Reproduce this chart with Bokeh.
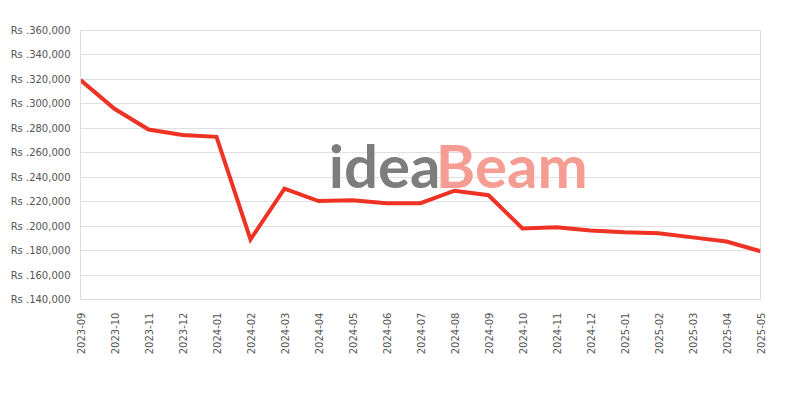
import math
from bokeh.plotting import figure
from bokeh.models import Range1d, FixedTicker, Label, ColumnDataSource
from bokeh.embed import file_html
from bokeh.resources import INLINE

months = ["2023-09", "2023-10", "2023-11", "2023-12", "2024-01", "2024-02", "2024-03",
          "2024-04", "2024-05", "2024-06", "2024-07", "2024-08", "2024-09", "2024-10",
          "2024-11", "2024-12", "2025-01", "2025-02", "2025-03", "2025-04", "2025-05"]
prices = [319500, 296000, 279000, 274500, 273000, 189100, 230600,
          220500, 221200, 218800, 218800, 229000, 225300, 198100,
          199000, 196500, 195000, 194200, 190800, 187400, 179500]
y_ticks = [140000, 160000, 180000, 200000, 220000, 240000, 260000,
           280000, 300000, 320000, 340000, 360000]

xs = list(range(len(months)))
src = ColumnDataSource(dict(x=xs, y=prices))

p = figure(width=784, height=384, output_backend="svg", toolbar_location=None,
           x_range=Range1d(0, len(months) - 1), y_range=Range1d(y_ticks[0], y_ticks[-1]),
           min_border_left=80, min_border_right=24, min_border_top=30, min_border_bottom=85)

p.outline_line_color = "#dcdcdc"
p.background_fill_color = "white"
p.border_fill_color = "white"

# watermark
wm_font = "Lato"
p.add_layout(Label(x=7.3, y=250400, text="idea", text_font=wm_font, text_font_size="60px",
                   text_color="#7d7d7d", text_baseline="alphabetic", level="underlay",
                   text_font_style="bold"))
p.add_layout(Label(x=10.45, y=250400, text="Beam", text_font=wm_font, text_font_size="60px",
                   text_color="#f59c93", text_baseline="alphabetic", level="underlay",
                   text_font_style="bold"))

p.line("x", "y", source=src, line_color="#ee3224", line_width=4, line_join="miter")

for ax in (p.xaxis[0], p.yaxis[0]):
    ax.axis_line_color = "#dcdcdc"
    ax.major_tick_line_color = None
    ax.minor_tick_line_color = None
    ax.major_tick_out = 0
    ax.major_tick_in = 0
    ax.minor_tick_out = 0
    ax.minor_tick_in = 0
    ax.major_label_text_font = "DejaVu Sans"
    ax.major_label_text_font_size = "10px"
    ax.major_label_text_color = "#555555"

p.xaxis.ticker = FixedTicker(ticks=xs)
p.xaxis.major_label_overrides = {i: m for i, m in enumerate(months)}
p.xaxis.major_label_orientation = math.pi / 2
p.xaxis.major_label_standoff = 13

p.yaxis.ticker = FixedTicker(ticks=y_ticks)
p.yaxis.major_label_overrides = {t: "Rs .{:,}".format(t) for t in y_ticks}
p.yaxis.major_label_standoff = 10

p.xgrid.grid_line_color = None
p.ygrid.grid_line_color = "#e0e0e0"
p.ygrid.grid_line_width = 1

open("out.html", "w").write(file_html(p, INLINE))
